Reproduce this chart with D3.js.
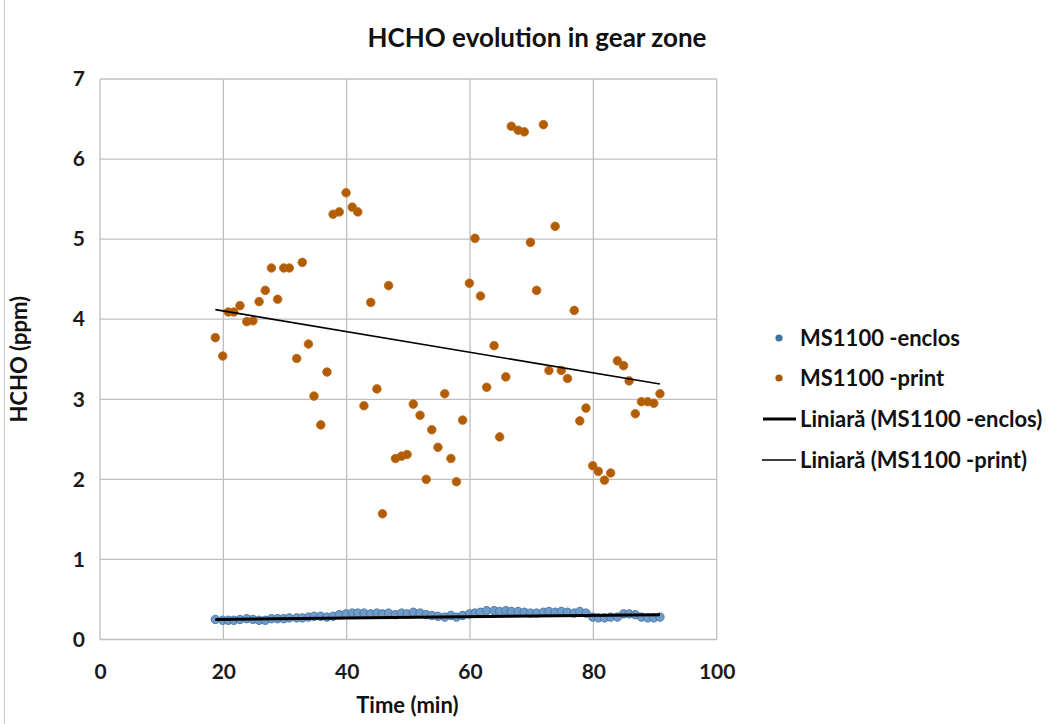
<!DOCTYPE html>
<html><head><meta charset="utf-8">
<script src="https://cdn.jsdelivr.net/npm/d3@7"></script>
<style>body{margin:0;background:#fff;} svg{display:block;font-family:Lato,"Open Sans",sans-serif;}</style>
</head><body>
<svg id="c" width="1050" height="724"></svg>
<script>
const timeMin = [18.7,19.9,20.8,21.7,22.7,23.8,24.8,25.8,26.8,27.8,28.8,29.8,30.7,31.9,32.8,33.8,34.7,35.8,36.8,37.8,38.8,39.9,40.9,41.8,42.8,43.9,44.9,45.8,46.8,47.9,48.9,49.8,50.8,51.9,52.9,53.8,54.8,55.9,56.9,57.8,58.8,59.9,60.8,61.7,62.7,63.9,64.8,65.8,66.7,67.8,68.8,69.8,70.8,71.9,72.8,73.8,74.8,75.8,76.9,77.8,78.8,79.9,80.8,81.8,82.8,83.9,84.9,85.8,86.8,87.8,88.8,89.8,90.8];
const printVals = [3.77,3.54,4.09,4.09,4.17,3.97,3.98,4.22,4.36,4.64,4.25,4.64,4.64,3.51,4.71,3.69,3.04,2.68,3.34,5.31,5.34,5.58,5.40,5.34,2.92,4.21,3.13,1.57,4.42,2.26,2.29,2.31,2.94,2.80,2.00,2.62,2.40,3.07,2.26,1.97,2.74,4.45,5.01,4.29,3.15,3.67,2.53,3.28,6.41,6.36,6.34,4.96,4.36,6.43,3.36,5.16,3.36,3.26,4.11,2.73,2.89,2.17,2.10,1.99,2.08,3.48,3.42,3.23,2.82,2.97,2.97,2.95,3.07];
const enclosVals = [0.25,0.24,0.24,0.24,0.25,0.26,0.25,0.24,0.24,0.26,0.26,0.26,0.27,0.27,0.27,0.28,0.29,0.29,0.28,0.29,0.31,0.32,0.33,0.33,0.33,0.32,0.33,0.32,0.33,0.31,0.33,0.32,0.34,0.33,0.31,0.30,0.29,0.28,0.30,0.28,0.30,0.32,0.33,0.34,0.36,0.36,0.35,0.36,0.35,0.35,0.34,0.33,0.33,0.34,0.35,0.34,0.35,0.34,0.33,0.35,0.33,0.28,0.27,0.27,0.28,0.28,0.32,0.32,0.31,0.28,0.27,0.27,0.28];
const trendEnclos = [[18.7,0.25],[90.8,0.31]];
const trendPrint = [[18.7,4.12],[90.8,3.19]];
const xTicks = [0,20,40,60,80,100];
const yTicks = [0,1,2,3,4,5,6,7];
const legendLabels = ["MS1100 -enclos","MS1100 -print","Liniară (MS1100 -enclos)","Liniară (MS1100 -print)"];

const svg = d3.select("#c");
const L=100,R=716.7,T=79,B=639.5;
const x = d3.scaleLinear().domain([0,100]).range([L,R]);
const y = d3.scaleLinear().domain([0,7]).range([B,T]);
const grid="#bfbfbf";

svg.append("line").attr("x1",4.5).attr("x2",4.5).attr("y1",0).attr("y2",724).attr("stroke","#c8c8c8");

svg.append("g").selectAll("line").data(xTicks).join("line")
  .attr("x1",d=>x(d)).attr("x2",d=>x(d)).attr("y1",T).attr("y2",B).attr("stroke",grid).attr("stroke-width",1.3);
svg.append("g").selectAll("line").data(yTicks).join("line")
  .attr("x1",L).attr("x2",R).attr("y1",d=>y(d)).attr("y2",d=>y(d)).attr("stroke",grid).attr("stroke-width",1.3);

const xa = svg.append("g").attr("transform",`translate(0,${B})`)
  .call(d3.axisBottom(x).tickValues(xTicks).tickFormat(d3.format("d")).tickSize(0).tickPadding(25));
const ya = svg.append("g").attr("transform",`translate(${L},0)`)
  .call(d3.axisLeft(y).tickValues(yTicks).tickFormat(d3.format("d")).tickSize(0).tickPadding(15));
[xa,ya].forEach(a=>{a.select(".domain").remove();
  a.selectAll("text").attr("font-family","Lato").attr("font-weight","bold").attr("font-size",21).attr("fill","#1a1a1a");});

const pts = timeMin.map((t,i)=>({t,e:enclosVals[i],p:printVals[i]}));
svg.append("g").selectAll("circle").data(pts).join("circle")
  .attr("cx",d=>x(d.t)).attr("cy",d=>y(d.e)).attr("r",4.2)
  .attr("fill","#6f9bcb").attr("stroke","#4a7aa6").attr("stroke-width",1);
svg.append("g").selectAll("circle").data(pts).join("circle")
  .attr("cx",d=>x(d.t)).attr("cy",d=>y(d.p)).attr("r",4.3)
  .attr("fill","#b15d05").attr("stroke","#c2691a").attr("stroke-width",0.8);

const line = d3.line().x(d=>x(d[0])).y(d=>y(d[1]));
svg.append("path").attr("d",line(trendEnclos)).attr("stroke","#000").attr("stroke-width",3).attr("fill","none");
svg.append("path").attr("d",line(trendPrint)).attr("stroke","#000").attr("stroke-width",1.6).attr("fill","none");

svg.append("text").attr("x",537).attr("y",47).attr("text-anchor","middle")
  .attr("font-weight","bold").attr("font-size",26).attr("fill","#111").text("HCHO evolution in gear zone");
svg.append("text").attr("x",(L+R)/2-1).attr("y",713).attr("text-anchor","middle")
  .attr("font-weight","bold").attr("font-size",22).attr("fill","#111").text("Time (min)");
svg.append("text").attr("transform",`translate(27,${(T+B)/2}) rotate(-90)`).attr("text-anchor","middle")
  .attr("font-weight","bold").attr("font-size",22).attr("fill","#111").text("HCHO (ppm)");

const lg = svg.append("g");
const ly = [338,378,419,460];
lg.append("circle").attr("cx",779).attr("cy",ly[0]).attr("r",3.6).attr("fill","#3f74a0");
lg.append("circle").attr("cx",779).attr("cy",ly[1]).attr("r",3.6).attr("fill","#a85a0c");
lg.append("line").attr("x1",763).attr("x2",796).attr("y1",ly[2]).attr("y2",ly[2]).attr("stroke","#000").attr("stroke-width",2.8);
lg.append("line").attr("x1",762).attr("x2",796).attr("y1",ly[3]).attr("y2",ly[3]).attr("stroke","#000").attr("stroke-width",1.6);
lg.selectAll("text").data(legendLabels).join("text")
  .attr("x",800).attr("y",(d,i)=>ly[i]).attr("dy","0.35em")
  .attr("font-weight","bold").attr("font-size",22).attr("fill","#111").text(d=>d);
</script>
</body></html>
